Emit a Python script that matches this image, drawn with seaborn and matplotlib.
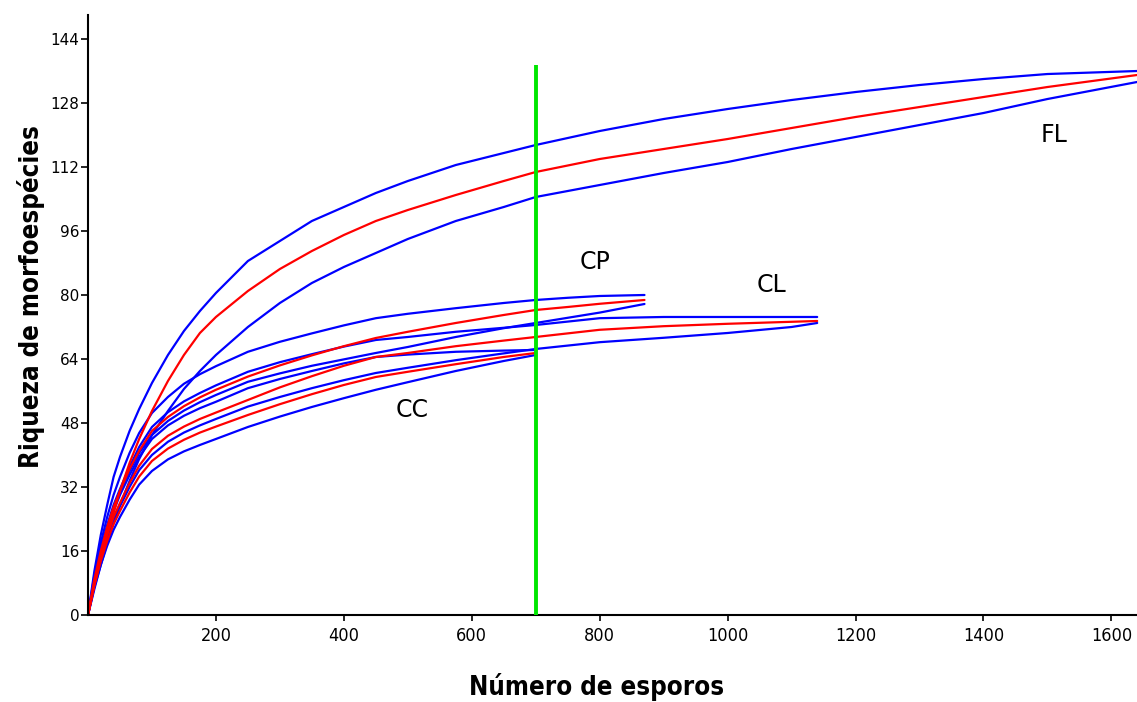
import matplotlib
matplotlib.use('Agg')
import matplotlib.pyplot as plt
from matplotlib import font_manager
import pandas as pd
import seaborn as sns

# Numero de esporos
x_curto = [0, 10, 20, 30, 40, 50, 65, 80, 100, 125, 150, 175, 200, 250, 300, 350, 400, 450, 500, 575, 650, 700]
x_cp = x_curto + [750, 800, 870]
x_cl = x_curto + [800, 900, 1000, 1100, 1140]
x_fl = x_curto + [800, 900, 1000, 1100, 1200, 1300, 1400, 1500, 1640]

# FL
fl_sup = [0, 11, 20, 27.5, 34.5, 39.5, 46, 51.5, 58, 65, 71, 76, 80.5, 88.5, 93.5, 98.5, 102, 105.5, 108.5, 112.5, 115.5, 117.5,
          121, 124, 126.5, 128.75, 130.75, 132.5, 134, 135.25, 136]
fl_med = [0, 7.5, 14, 20.5, 25.5, 31, 38, 44, 51, 58.5, 65, 70.5, 74.5, 81, 86.5, 91, 95, 98.5, 101.25, 105, 108.5, 110.75,
          114, 116.5, 119, 121.75, 124.5, 127, 129.5, 132, 135]
fl_inf = [0, 6.5, 12.5, 18, 23, 27.5, 33.5, 39, 45, 51, 56.5, 61, 65, 72, 78, 83, 87, 90.5, 94, 98.5, 102, 104.5,
          107.5, 110.5, 113.25, 116.5, 119.5, 122.5, 125.5, 129, 133.25]

# CP
cp_sup = [0, 10, 18, 24.5, 30, 34.5, 40.5, 45.5, 50.5, 54.5, 57.8, 60.2, 62.2, 65.8, 68.3, 70.4, 72.4, 74.2, 75.3, 76.7, 78, 78.75,
          79.3, 79.75, 80]
cp_med = [0, 9, 16, 22, 27, 31, 36.5, 41, 46, 49.5, 52.2, 54.4, 56.3, 59.6, 62.4, 64.9, 67.2, 69.25, 70.8, 73, 75, 76.25,
          77, 77.8, 78.75]
cp_inf = [0, 8.5, 15.5, 21.5, 26.5, 30.5, 36, 40.5, 45, 48.5, 51.1, 53.2, 55, 58.3, 60.4, 62.3, 63.9, 65.5, 67, 69.5, 71.7, 73,
          74.3, 75.6, 77.75]

# CL
cl_sup = [0, 9, 16.5, 22.5, 27.5, 31.5, 37, 42, 47, 50.7, 53.4, 55.5, 57.4, 60.8, 63.2, 65.2, 67.1, 68.75, 69.5, 70.8, 71.8, 72.5,
          74.2, 74.5, 74.5, 74.5, 74.5]
cl_med = [0, 8, 14.5, 20, 24.5, 28, 33, 37.3, 41.5, 44.8, 47.1, 49, 50.6, 53.75, 56.9, 59.7, 62.3, 64.5, 65.5, 67.2, 68.6, 69.5,
          71.3, 72.2, 72.8, 73.3, 73.5]
cl_inf = [0, 7.5, 14, 19.3, 23.7, 27.2, 32, 36.2, 40, 43.3, 45.6, 47.4, 49, 52.1, 54.5, 56.7, 58.7, 60.5, 61.8, 63.7, 65.4, 66.5,
          68.2, 69.3, 70.5, 72, 73]

# CC
cc_sup = [0, 8.5, 15.5, 21, 26, 30, 35, 39.5, 44, 47.4, 49.8, 51.7, 53.3, 56.7, 59, 61, 62.9, 64.5, 65.1, 65.8, 66.1, 66.25]
cc_med = [0, 7.5, 13.5, 18.5, 22.7, 26, 30.6, 34.6, 38.5, 41.6, 43.8, 45.6, 47.1, 50, 52.7, 55.2, 57.5, 59.5, 60.8, 62.7, 64.5, 65.5]
cc_inf = [0, 7, 12.5, 17.3, 21.3, 24.5, 28.8, 32.6, 36, 38.9, 40.9, 42.5, 44, 47, 49.6, 52, 54.2, 56.3, 58.2, 61, 63.5, 65]

rotulos = ['FL', 'CP', 'CL', 'CC']
rotulo_x = [1511, 792, 1069, 506]
rotulo_y = [120, 88.25, 82.5, 51.25]

corte_x = 700
corte_topo = 137.5

y_ticks = [0, 16, 32, 48, 64, 80, 96, 112, 128, 144]
x_ticks = [200, 400, 600, 800, 1000, 1200, 1400, 1600]

curvas = [
    ('FL', 'sup', x_fl, fl_sup), ('FL', 'med', x_fl, fl_med), ('FL', 'inf', x_fl, fl_inf),
    ('CP', 'sup', x_cp, cp_sup), ('CP', 'med', x_cp, cp_med), ('CP', 'inf', x_cp, cp_inf),
    ('CL', 'sup', x_cl, cl_sup), ('CL', 'med', x_cl, cl_med), ('CL', 'inf', x_cl, cl_inf),
    ('CC', 'sup', x_curto, cc_sup), ('CC', 'med', x_curto, cc_med), ('CC', 'inf', x_curto, cc_inf),
]

linhas = []
for area, nivel, xs, ys in curvas:
    tipo = 'media' if nivel == 'med' else 'ic'
    for xv, yv in zip(xs, ys):
        linhas.append({'x': xv, 'y': yv, 'curva': area + '_' + nivel, 'tipo': tipo})
df = pd.DataFrame(linhas)

sns.set_style('white')
plt.rcParams['font.family'] = ['DejaVu Sans']
plt.rcParams['text.color'] = 'black'

# fonte estreita para os rotulos dos eixos, se houver
tem_cond = any(f.name == 'DejaVu Sans' and 'ondensed' in f.fname for f in font_manager.fontManager.ttflist)
tam_eixo = 18.5 if tem_cond else 16
tam_xtick = 13 if tem_cond else 11.5

fig = plt.figure(figsize=(11.37, 7.02), dpi=100)
ax = fig.add_axes([0.0774, 0.124, 0.9226, 0.8546])

sns.lineplot(data=df, x='x', y='y', hue='tipo', units='curva', estimator=None, sort=False,
             palette={'media': '#ff0000', 'ic': '#0000ff'}, linewidth=1.6, legend=False, ax=ax)

ax.vlines(corte_x, 0, corte_topo, color='#00e600', linewidth=2.8, zorder=5)

for r, rx, ry in zip(rotulos, rotulo_x, rotulo_y):
    ax.text(rx, ry, r, fontsize=17, ha='center', va='center', color='black')

ax.set_xlim(0, 1640)
ax.set_ylim(0, 150)
ax.set_xticks(x_ticks)
ax.set_yticks(y_ticks)
ax.set_xticklabels([str(v) for v in x_ticks], fontsize=tam_xtick, fontstretch='condensed', color='black')
ax.set_yticklabels([str(v) for v in y_ticks], fontsize=11, color='black')
ax.tick_params(axis='y', direction='out', length=5, width=1.2, pad=1, left=True, color='black')
ax.tick_params(axis='x', direction='out', length=4, width=1.2, pad=5, bottom=True, color='black')

for s in ['top', 'right']:
    ax.spines[s].set_visible(False)
for s in ['left', 'bottom']:
    ax.spines[s].set_color('black')
    ax.spines[s].set_linewidth(1.5)

ax.set_xlabel('Número de esporos', fontstretch='condensed', fontweight='bold', fontsize=tam_eixo, color='black')
ax.set_ylabel('Riqueza de morfoespécies', fontstretch='condensed', fontweight='bold', fontsize=tam_eixo, color='black')
ax.xaxis.set_label_coords(0.485, -0.097)
ax.yaxis.set_label_coords(-0.041, 0.53)

fig.savefig('out.png', dpi=100)
